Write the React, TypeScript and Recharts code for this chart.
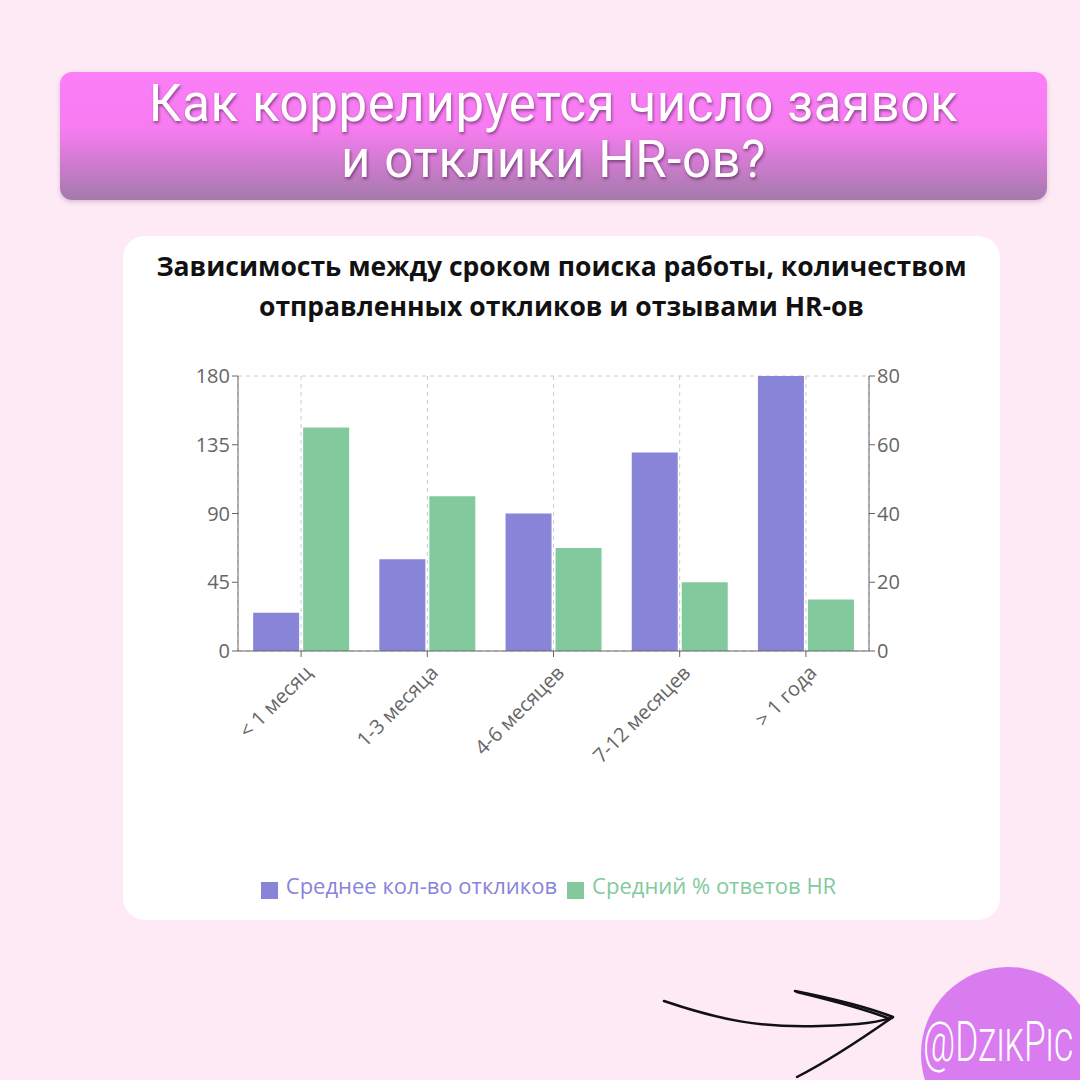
import React from 'react';
import {
  BarChart,
  Bar,
  XAxis,
  YAxis,
  CartesianGrid,
  Legend,
} from 'recharts';

// categories and series
const periods = ['< 1 месяц', '1-3 месяца', '4-6 месяцев', '7-12 месяцев', '> 1 года'];
const avgResponses = [25, 60, 90, 130, 180];
const hrReplyPct = [65, 45, 30, 20, 15];
const leftTicks = [0, 45, 90, 135, 180];
const rightTicks = [0, 20, 40, 60, 80];

const data = periods.map((name, i) => ({
  name,
  responses: avgResponses[i],
  replies: hrReplyPct[i],
}));

const PURPLE = '#8884d8';
const GREEN = '#82ca9d';
const AXIS = '#666';
const FONT = '"Open Sans", "Noto Sans", sans-serif';

const AngledTick = (props: any) => {
  const { x, y, payload } = props;
  return (
    <g transform={`translate(${x + 12},${y + 15})`}>
      <text
        x={0}
        y={0}
        textAnchor="end"
        fill={AXIS}
        fontSize={20}
        fontFamily={FONT}
        transform="rotate(-45)"
      >
        {payload.value}
      </text>
    </g>
  );
};

const legendText = (value: string, entry: any) => (
  <span style={{ color: entry.color, fontSize: 22, fontFamily: FONT, marginLeft: 4 }}>
    {value}
  </span>
);

export default function App() {
  return (
    <div
      style={{
        position: 'absolute',
        left: 0,
        top: 0,
        width: 1080,
        height: 1080,
        background: '#fdeaf4',
        overflow: 'hidden',
      }}
    >
      {/* header banner */}
      <div
        style={{
          position: 'absolute',
          left: 60,
          top: 72,
          width: 987,
          height: 128,
          borderRadius: 12,
          background: 'linear-gradient(180deg, #fb7ef8 0%, #f67cf0 45%, #a47aab 100%)',
          boxShadow: '0 2px 4px rgba(120,60,120,0.25)',
          color: '#fff',
          fontFamily: 'Roboto, sans-serif',
          fontSize: 51,
          lineHeight: '56px',
          textAlign: 'center',
          paddingTop: 4,
          boxSizing: 'border-box',
          textShadow: '1px 2px 3px rgba(60,20,60,0.55)',
          letterSpacing: 0.6,
        }}
      >
        Как коррелируется число заявок
        <br />и отклики HR-ов?
      </div>

      {/* white card */}
      <div
        style={{
          position: 'absolute',
          left: 123,
          top: 236,
          width: 877,
          height: 684,
          borderRadius: 22,
          background: '#fff',
        }}
      >
        <div
          style={{
            position: 'absolute',
            left: 0,
            top: 10,
            width: 877,
            textAlign: 'center',
            fontFamily: FONT,
            fontWeight: 700,
            fontSize: 26.5,
            lineHeight: '40px',
            color: '#111',
          }}
        >
          Зависимость между сроком поиска работы, количеством
          <br />
          отправленных откликов и отзывами HR-ов
        </div>
        <div style={{ position: 'absolute', left: 0, top: 0 }}>
          <BarChart
            width={877}
            height={684}
            data={data}
            margin={{ top: 140, right: 71, left: 55, bottom: 20 }}
            barCategoryGap="12%"
            barGap={4}
          >
            <CartesianGrid stroke="#ccc" strokeDasharray="4 4" />
            <XAxis
              dataKey="name"
              interval={0}
              height={219}
              stroke={AXIS}
              tick={<AngledTick />}
            />
            <YAxis
              yAxisId="left"
              domain={[0, 180]}
              ticks={leftTicks}
              width={60}
              stroke={AXIS}
              tick={{ fill: AXIS, fontSize: 20, fontFamily: FONT }}
            />
            <YAxis
              yAxisId="right"
              orientation="right"
              domain={[0, 80]}
              ticks={rightTicks}
              width={60}
              stroke={AXIS}
              tick={{ fill: AXIS, fontSize: 20, fontFamily: FONT }}
            />
            <Legend
              verticalAlign="bottom"
              iconType="square"
              iconSize={17}
              formatter={legendText}
            />
            <Bar
              yAxisId="left"
              dataKey="responses"
              name="Среднее кол-во откликов"
              fill={PURPLE}
              isAnimationActive={false}
            />
            <Bar
              yAxisId="right"
              dataKey="replies"
              name="Средний % ответов HR"
              fill={GREEN}
              isAnimationActive={false}
            />
          </BarChart>
        </div>
      </div>

      {/* hand-drawn arrow */}
      <svg
        width={1080}
        height={1080}
        style={{ position: 'absolute', left: 0, top: 0, pointerEvents: 'none' }}
      >
        <g fill="none" stroke="#111" strokeWidth={2.5} strokeLinecap="round">
          <path d="M664 1001 C 720 1020, 760 1028, 820 1026 S 880 1020, 892 1018" />
          <path d="M795 991 C 830 998, 870 1008, 893 1017" />
          <path d="M797 992 C 830 1000, 868 1010, 890 1019" />
          <path d="M890 1019 C 860 1040, 830 1060, 797 1077" />
        </g>
      </svg>

      {/* badge */}
      <div
        style={{
          position: 'absolute',
          left: 921,
          top: 967,
          width: 174,
          height: 174,
          borderRadius: '50%',
          background: '#d97cf0',
        }}
      />
      <div
        style={{
          position: 'absolute',
          left: 923,
          top: 1012,
          color: '#fff',
          fontFamily: 'Roboto, sans-serif',
          fontWeight: 300,
          fontSize: 56,
          fontVariant: 'small-caps',
          lineHeight: '60px',
          whiteSpace: 'nowrap',
          transform: 'scaleX(0.63)',
          transformOrigin: 'left top',
        }}
      >
        @DzikPic
      </div>
    </div>
  );
}
